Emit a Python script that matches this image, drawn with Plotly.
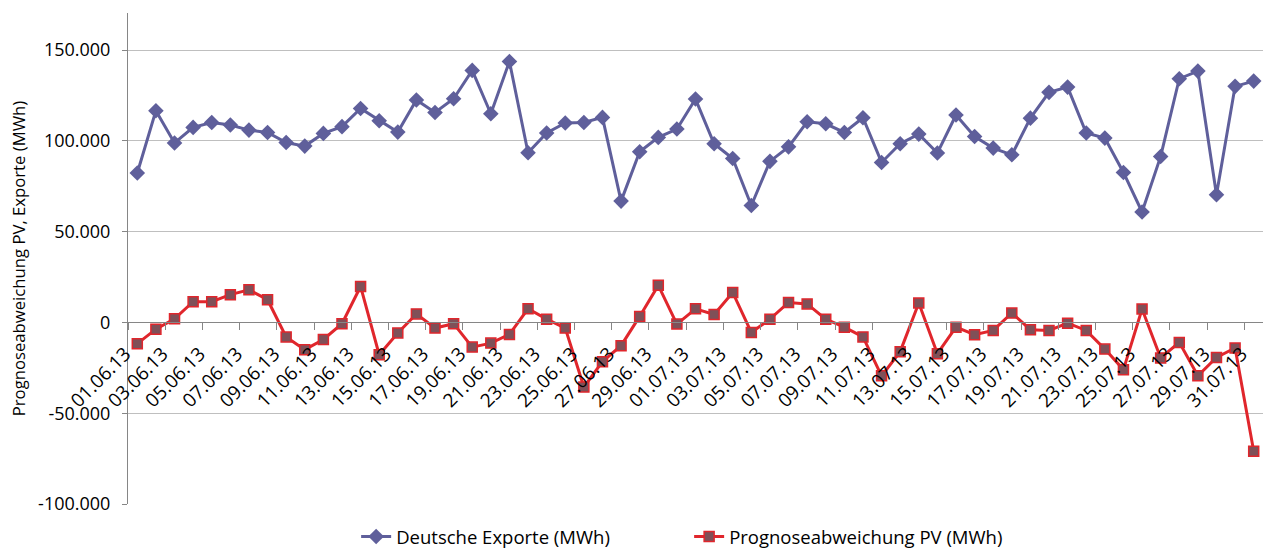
import plotly.graph_objects as go
from datetime import date, timedelta

# Categories: daily dates 01.06.13 .. 31.07.13
start = date(2013, 6, 1)
dates = [(start + timedelta(days=i)).strftime("%d.%m.%y") for i in range(61)]

exports = [
    82300, 116600, 98800, 107400, 110100, 108700, 105900, 104600, 99100, 97100,
    104100, 107800, 117800, 111100, 104800, 122500, 115600, 123200, 138800, 114900,
    143700, 93400, 104300, 109800, 110100, 112900, 66800, 94000, 101900, 106500,
    123000, 98400, 90300, 64400, 88700, 96700, 110500, 109400, 104600, 112700,
    88100, 98400, 103700, 93300, 114200, 102400, 96000, 92300, 112500, 126700,
    129600, 104300, 101500, 82600, 60800, 91400, 134200, 138400, 70300, 130000,
    132900,
]

pv_dev = [
    -11700, -3700, 2000, 11400, 11400, 15300, 18000, 12500, -8000, -15000,
    -9400, -700, 19800, -17800, -5800, 4700, -3100, -700, -13600, -11400,
    -6600, 7500, 1800, -3100, -35600, -21600, -12800, 3300, 20400, -900,
    7500, 4400, 16500, -5500, 1800, 11000, 10200, 1800, -2600, -8000,
    -29400, -16100, 10700, -17200, -2600, -6800, -4400, 5200, -4000, -4400,
    -400, -4400, -14700, -26000, 7400, -19600, -11000, -29400, -19300, -14100,
    -71000,
]

y_tickvals = [-100000, -50000, 0, 50000, 100000, 150000]
y_ticktext = ["-100.000", "-50.000", "0", "50.000", "100.000", "150.000"]

y_min, y_max = -100000, 170400
font_family = "Open Sans, Liberation Sans, sans-serif"

fig = go.Figure()
fig.add_trace(go.Scatter(
    x=dates, y=exports, mode="lines+markers", name="Deutsche Exporte (MWh)",
    line=dict(color="#5F5F9B", width=3),
    marker=dict(symbol="diamond", size=12, color="#5F5F9B"),
    cliponaxis=False,
))
fig.add_trace(go.Scatter(
    x=dates, y=pv_dev, mode="lines+markers", name="Prognoseabweichung PV (MWh)",
    line=dict(color="#E0262C", width=3),
    marker=dict(symbol="square", size=10, color="#7F5058",
                line=dict(color="#E0262C", width=1.5)),
    cliponaxis=False,
))

zero_pos = (0 - y_min) / (y_max - y_min)

fig.update_layout(
    width=1263, height=549,
    margin=dict(l=128, r=0, t=13, b=45),
    paper_bgcolor="white", plot_bgcolor="white",
    font=dict(family=font_family, color="#000000"),
    showlegend=True,
    legend=dict(orientation="h", x=0.201, xanchor="left",
                yref="container", y=(549 - 537) / 549, yanchor="middle",
                font=dict(size=18.5, family=font_family), entrywidth=288),
    xaxis=dict(
        type="category", anchor="free", position=zero_pos, automargin=False,
        showline=True, linecolor="#868686", linewidth=1,
        showgrid=False, zeroline=False,
        ticks="outside", ticklen=7, tickcolor="#868686", tickson="boundaries",
        tickmode="linear", tick0=0, dtick=2, tickangle=-45,
        ticklabelstandoff=12, ticklabelshift=-12,
        tickfont=dict(size=19, family=font_family, color="#000000"),
        range=[-0.5, 60.5],
    ),
    yaxis=dict(
        range=[y_min, y_max], automargin=False,
        tickmode="array", tickvals=y_tickvals, ticktext=y_ticktext,
        showline=True, linecolor="#868686", linewidth=1,
        showgrid=True, gridcolor="#BFBFBF", gridwidth=1,
        zeroline=False,
        ticks="outside", ticklen=5, tickcolor="#868686",
        ticklabelstandoff=8,
        tickfont=dict(size=18, family=font_family, color="#000000"),
        title=dict(text="Prognoseabweichung PV, Exporte (MWh)",
                   font=dict(size=16.7, family=font_family, color="#000000"), standoff=8),
    ),
)

fig.write_html("out.html", config={"displayModeBar": False},
               post_script="document.body.style.margin='0';")
